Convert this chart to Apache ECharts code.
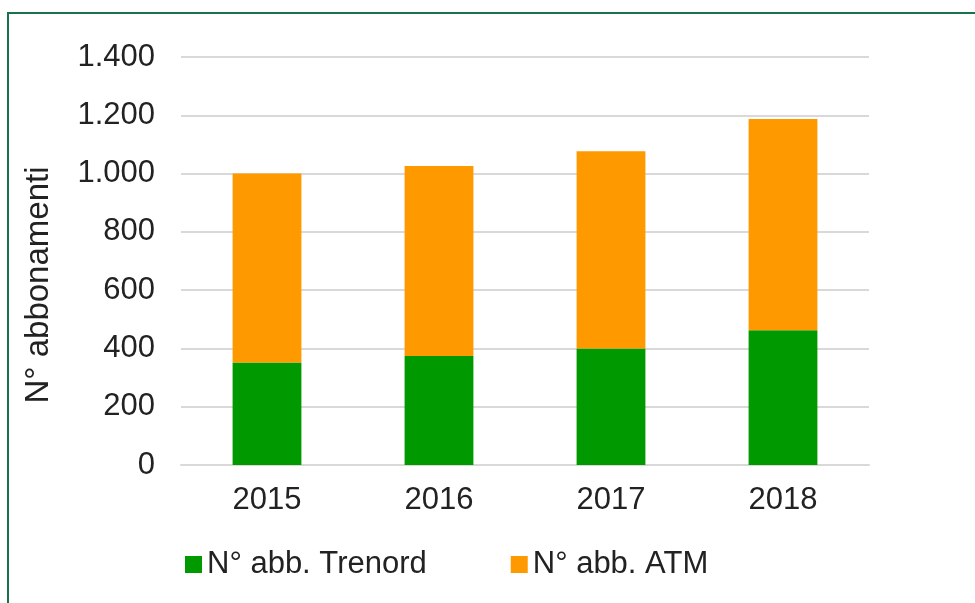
<!DOCTYPE html>
<html>
<head>
<meta charset="utf-8">
<script src="https://cdn.jsdelivr.net/npm/echarts@6/dist/echarts.min.js"></script>
<style>
  html, body { margin: 0; padding: 0; background: #fff; }
  .frame {
    position: absolute;
    left: 7px;
    top: 12px;
    width: 1000px;
    height: 640px;
    border: 2px solid #17734b;
    box-sizing: border-box;
  }
  #chart { position: absolute; left: 0; top: 0; width: 975px; height: 603px; }
</style>
</head>
<body>
<div class="frame"></div>
<div id="chart"></div>
<script>
  // dati
  var years = ["2015", "2016", "2017", "2018"];
  var trenord = [352, 374, 400, 462];
  var atm = [648, 652, 677, 725];
  var yTicks = [0, 200, 400, 600, 800, 1000, 1200, 1400];

  var font = "Liberation Sans, Arial, sans-serif";
  var chart = echarts.init(document.getElementById("chart"));

  function itFormat(v) {
    return String(v).replace(/\B(?=(\d{3})+(?!\d))/g, ".");
  }

  chart.setOption({
    animation: false,
    grid: { left: 181, right: 106, top: 57, bottom: 138 },
    legend: {
      data: ["N° abb. Trenord", "N° abb. ATM"],
      bottom: 18,
      left: 180,
      itemWidth: 17,
      itemHeight: 17,
      itemGap: 84,
      icon: "rect",
      textStyle: { fontFamily: font, fontSize: 31, color: "#222" }
    },
    xAxis: {
      type: "category",
      data: years,
      axisLine: { lineStyle: { color: "#d9d9d9", width: 2 } },
      axisTick: { show: false },
      axisLabel: { fontFamily: font, fontSize: 31, color: "#222", margin: 20 }
    },
    yAxis: {
      type: "value",
      min: yTicks[0],
      max: yTicks[yTicks.length - 1],
      interval: 200,
      name: "N° abbonamenti",
      nameLocation: "middle",
      nameGap: 126,
      nameTextStyle: {
        fontFamily: font,
        fontSize: 33,
        color: "#222",
        padding: [0, 48, 0, 0]
      },
      axisLine: { show: false },
      axisTick: { show: false },
      splitLine: { lineStyle: { color: "#d9d9d9", width: 2 } },
      axisLabel: {
        fontFamily: font,
        fontSize: 31,
        color: "#222",
        margin: 26,
        formatter: itFormat
      }
    },
    series: [
      {
        name: "N° abb. Trenord",
        type: "bar",
        stack: "tot",
        data: trenord,
        barWidth: "40%",
        itemStyle: { color: "#009900" }
      },
      {
        name: "N° abb. ATM",
        type: "bar",
        stack: "tot",
        data: atm,
        barWidth: "40%",
        itemStyle: { color: "#ff9900" }
      }
    ]
  });
</script>
</body>
</html>
